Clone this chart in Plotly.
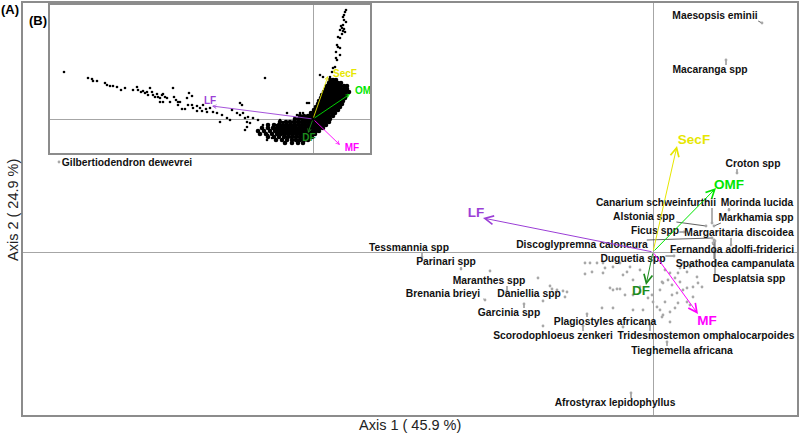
import plotly.graph_objects as go

# ---------------- Panel (A): labelled species (CA scores) ----------------
species = ["Maesopsis eminii", "Macaranga spp", "Croton spp", "Canarium schweinfurthii",
           "Morinda lucida", "Alstonia spp", "Markhamia spp", "Ficus spp",
           "Margaritaria discoidea", "Discoglypremna caloneura", "Fernandoa adolfi-friderici",
           "Duguetia spp", "Spathodea campanulata", "Desplatsia spp", "Tessmannia spp",
           "Parinari spp", "Maranthes spp", "Brenania brieyi", "Daniellia spp", "Garcinia spp",
           "Plagiostyles africana", "Scorodophloeus zenkeri", "Tridesmostemon omphalocarpoides",
           "Tieghemella africana", "Afrostyrax lepidophyllus", "Gilbertiodendron dewevrei"]
sp_x = [1.09, 0.73, 0.84, 0.59, 0.76, 0.53, 0.61, 0.31, 0.78, 0.59, 0.60, 0.21, 0.61, 0.62,
        -2.31, -1.92, -1.46, -1.68, -0.88, -1.29, -0.66, -0.70, -0.03, 0.14, -0.22, -5.94]
sp_y = [2.29, 1.92, 0.79, 0.29, 0.42, 0.26, 0.26, 0.20, 0.07, 0.14, 0.09, -0.04, 0.12, 0.11,
        -0.05, -0.17, -0.39, -0.48, -0.45, -0.52, -0.62, -0.74, -0.73, -0.90, -1.41, 0.90]
# label positions (centre of text)
lab_x = [0.62, 0.57, 1.00, 0.03, 1.04, -0.09, 1.03, 0.02, 0.86, -0.71, 0.79, -0.20, 0.82, 0.96,
         -2.44, -2.07, -1.64, -2.10, -1.24, -1.44, -0.48, -1.00, 0.53, 0.29, -0.38, -5.26]
lab_y = [2.36, 1.82, 0.88, 0.49, 0.49, 0.35, 0.34, 0.21, 0.19, 0.07, 0.02, -0.07, -0.12, -0.27,
         0.04, -0.10, -0.29, -0.42, -0.42, -0.61, -0.70, -0.84, -0.84, -0.99, -1.51, 0.89]

# other (unlabelled) species
oth_x = [-1.63, -1.15, -1.03, -1.01, -0.96, -0.90, -0.86, -1.10, -1.10, -0.68, -0.63, -0.56,
         -0.68, -0.50, -0.43, -0.40, -0.36, -0.33, -0.51, -0.40, -0.20, -0.10, 0.00, 0.04,
         0.07, 0.10, 0.15, 0.17, 0.22, 0.25, 0.27, 0.30, 0.34, 0.37, 0.44, 0.45, 0.40, 0.30,
         0.24, 0.19, 0.22, 0.17, 0.10, 0.07, -0.01, 0.12, 0.25, 0.34, 0.40, -0.05, -0.13,
         -0.20, -0.30, -0.33, -0.23, -0.13, -0.50, -0.61, -0.48, -0.40, -0.26, -0.28, -0.20,
         -0.13, 0.12, 0.09, 0.19, 0.27, 0.34, 0.49, 0.37, 0.09, 0.17, -0.30, 0.40]
oth_y = [-0.19, -0.26, -0.34, -0.37, -0.38, -0.39, -0.40, -0.49, -0.74, -0.11, -0.11, -0.11,
         -0.22, -0.21, -0.36, -0.38, -0.37, -0.37, -0.56, -0.56, -0.58, -0.58, -0.50, -0.55,
         -0.38, -0.31, -0.28, -0.21, -0.26, -0.21, -0.16, -0.11, -0.20, -0.15, -0.25, -0.31,
         -0.35, -0.38, -0.41, -0.43, -0.56, -0.60, -0.63, -0.58, -0.43, -0.50, -0.51, -0.50,
         -0.45, -0.46, -0.35, -0.28, -0.23, -0.11, -0.15, -0.18, -0.11, -0.20, -0.16, -0.15,
         -0.20, -0.43, -0.43, -0.40, -0.18, -0.30, -0.33, -0.30, -0.36, -0.35, -0.53, -0.65,
         -0.70, -0.75, -0.13]

# environmental vectors
env_names = ["SecF", "OMF", "LF", "DF", "MF"]
env_x = [0.24, 0.63, -1.70, -0.07, 0.45]
env_y = [1.06, 0.64, 0.34, -0.33, -0.62]
env_lab_x = [0.41, 0.76, -1.77, -0.12, 0.54]
env_lab_y = [1.11, 0.66, 0.38, -0.40, -0.70]
env_colors = ["#E6E600", "#00E600", "#9B3FD6", "#1E8C1E", "#FF00FF"]

# ---------------- Panel (B): all species ----------------
ins_env_names = ["SecF", "OM", "LF", "DF", "MF"]
ins_env_x = [0.15, 0.37, -1.01, -0.05, 0.27]
ins_env_y = [0.43, 0.25, 0.13, -0.14, -0.26]
ins_lab_x = [0.32, 0.50, -1.03, -0.04, 0.39]
ins_lab_y = [0.45, 0.28, 0.18, -0.19, -0.29]

ins_x = [-2.49, -2.25, -2.21, -2.20, -2.16, -2.08, -2.06, -2.03, -2.00, -1.96, -1.92, -1.88,
         -1.80, -1.76, -1.75, -1.72, -1.70, -1.68, -1.66, -1.65, -1.63, -1.61, -1.60, -1.58,
         -1.56, -1.55, -1.53, -1.51, -1.50, -1.48, -1.46, -1.53, -1.50, -1.43, -1.40, -1.39,
         -1.37, -1.35, -1.33, -1.31, -1.28, -1.26, -1.24, -1.21, -1.25, -1.21, -1.20, -1.16,
         -1.13, -1.11, -1.10, -1.07, -1.06, -1.16, -1.35,
         -0.48, -0.73, -0.71, -1.03, -1.00, -0.96, -0.93, -0.91, -0.86, -0.83, -0.81, -0.76,
         -0.73, -0.70, -0.68, -0.66, -0.65, -0.63, -0.60, -0.66, -0.68, -0.55, -0.51, -0.50,
         -0.46, -0.48, -0.45, -0.41, -0.46, -0.38, -0.36, -0.33, -0.30, -0.26, -0.23, -0.16,
         -0.13, -0.10, -0.06, -0.04, -0.06, -0.03,
         0.33, 0.32, 0.30, 0.31, 0.30, 0.29, 0.27, 0.30, 0.32, 0.25, 0.27, 0.24, 0.25, 0.27,
         0.23, 0.27, 0.24, 0.22, 0.20, 0.19, 0.17, 0.31, 0.33, 0.28, 0.31, 0.29, 0.23, 0.07, 0.10]
ins_y = [0.47, 0.41, 0.40, 0.38, 0.38, 0.36, 0.34, 0.33, 0.33, 0.32, 0.29, 0.31,
         0.29, 0.32, 0.29, 0.27, 0.28, 0.26, 0.27, 0.24, 0.31, 0.27, 0.24, 0.22,
         0.25, 0.22, 0.21, 0.24, 0.25, 0.22, 0.21, 0.17, 0.17, 0.17, 0.31, 0.22,
         0.19, 0.17, 0.17, 0.10, 0.10, 0.21, 0.26, 0.23, 0.14, 0.14, 0.11, 0.13,
         0.11, 0.08, 0.14, 0.10, 0.07, 0.08, 0.14,
         0.41, 0.16, 0.14, 0.11, 0.07, 0.06, -0.03, 0.04, 0.01, -0.01, 0.09, 0.06,
         0.04, 0.06, 0.01, -0.03, 0.02, -0.04, 0.01, -0.08, -0.11, -0.01, -0.08, -0.06,
         -0.09, -0.13, -0.16, -0.19, -0.21, -0.11, -0.06, -0.01, -0.03, 0.06, -0.03, 0.04,
         0.06, 0.06, 0.16, 0.16, 0.01, 0.01,
         1.09, 1.07, 1.02, 0.99, 0.94, 0.91, 0.89, 0.88, 0.87, 0.82, 0.81, 0.74, 0.72, 0.71,
         0.67, 0.64, 0.59, 0.52, 0.51, 0.47, 0.42, 1.04, 0.97, 0.93, 0.90, 0.85, 0.61, 0.44, 0.42]

# dense core of panel (B): rows of (axis-2 score, [axis-1 scores])
ins_rows = [
    (0.39, [0.17, 0.20, 0.23]),
    (0.36, [0.16, 0.19, 0.22, 0.25, 0.28]),
    (0.33, [0.14, 0.17, 0.21, 0.24, 0.27, 0.31, 0.34]),
    (0.30, [0.13, 0.16, 0.19, 0.22, 0.25, 0.28, 0.31, 0.34]),
    (0.27, [0.11, 0.14, 0.17, 0.20, 0.23, 0.26, 0.29, 0.32, 0.36]),
    (0.24, [0.09, 0.12, 0.15, 0.18, 0.21, 0.24, 0.27, 0.30, 0.33]),
    (0.21, [0.08, 0.11, 0.14, 0.17, 0.20, 0.23, 0.26, 0.29, 0.32]),
    (0.18, [0.06, 0.09, 0.12, 0.15, 0.18, 0.21, 0.24, 0.27, 0.30]),
    (0.15, [0.05, 0.08, 0.11, 0.14, 0.17, 0.20, 0.23, 0.26, 0.29]),
    (0.12, [0.03, 0.06, 0.09, 0.12, 0.15, 0.18, 0.21, 0.24, 0.27]),
    (0.09, [0.01, 0.04, 0.07, 0.10, 0.13, 0.16, 0.19, 0.22, 0.25]),
    (0.06, [-0.02, 0.01, 0.04, 0.07, 0.10, 0.13, 0.16, 0.19, 0.22]),
    (0.03, [-0.13, -0.09, -0.05, -0.02, 0.01, 0.04, 0.07, 0.10, 0.13, 0.16, 0.20]),
    (0.00, [-0.18, -0.14, -0.10, -0.07, -0.04, -0.01, 0.02, 0.05, 0.08, 0.11, 0.14, 0.17]),
    (-0.03, [-0.33, -0.27, -0.23, -0.19, -0.15, -0.11, -0.08, -0.05, -0.02, 0.01, 0.04, 0.07,
             0.10, 0.13, 0.16]),
    (-0.06, [-0.45, -0.39, -0.34, -0.30, -0.26, -0.22, -0.18, -0.14, -0.11, -0.08, -0.05,
             -0.02, 0.01, 0.04, 0.07, 0.10, 0.13]),
    (-0.09, [-0.51, -0.45, -0.40, -0.36, -0.32, -0.28, -0.24, -0.20, -0.17, -0.14, -0.11,
             -0.08, -0.05, -0.02, 0.01, 0.04, 0.07, 0.10]),
    (-0.12, [-0.55, -0.49, -0.43, -0.38, -0.34, -0.30, -0.26, -0.22, -0.18, -0.15, -0.12,
             -0.09, -0.06, -0.03, 0.00, 0.03, 0.06]),
    (-0.15, [-0.53, -0.47, -0.41, -0.36, -0.32, -0.28, -0.24, -0.20, -0.16, -0.13, -0.10,
             -0.07, -0.04, -0.01, 0.02]),
    (-0.18, [-0.45, -0.39, -0.34, -0.29, -0.25, -0.21, -0.17, -0.13, -0.10, -0.07, -0.04, -0.01]),
    (-0.21, [-0.37, -0.31, -0.26, -0.21, -0.17, -0.13, -0.09, -0.05]),
    (-0.24, [-0.28, -0.21, -0.15, -0.10]),
]

axis1_title = "Axis 1 ( 45.9 %)"
axis2_title = "Axis 2 ( 24.9 %)"

# ---------------------------------------------------------------------------
FONT = "Liberation Sans, Arial, sans-serif"
W, H = 800, 435
fig = go.Figure()

# leader lines from each labelled point to the nearest edge of its label box
CH = 0.027   # half width per character (data units)
HH = 0.05    # half height of label box
lx, ly = [], []
for n, px, py, tx, ty in zip(species, sp_x, sp_y, lab_x, lab_y):
    hw = len(n) * CH
    ex = min(max(px, tx - hw), tx + hw)
    ey = min(max(py, ty - HH), ty + HH)
    lx += [px, ex, None]
    ly += [py, ey, None]
fig.add_trace(go.Scatter(x=lx, y=ly, mode="lines", line=dict(color="#3a3a3a", width=0.8),
                         hoverinfo="skip", showlegend=False, xaxis="x", yaxis="y"))

fig.add_trace(go.Scatter(x=oth_x + sp_x, y=oth_y + sp_y, mode="markers",
                         marker=dict(size=2.8, color="#A8A8A8"),
                         showlegend=False, xaxis="x", yaxis="y"))

fig.add_trace(go.Scatter(x=lab_x, y=lab_y, mode="text", text=species,
                         textfont=dict(family=FONT, size=10.3, color="#111111", weight="bold"),
                         cliponaxis=False, showlegend=False, xaxis="x", yaxis="y"))

fig.add_trace(go.Scatter(x=env_lab_x, y=env_lab_y, mode="text", text=env_names,
                         textfont=dict(family=FONT, size=13.5, color=env_colors, weight="bold"),
                         cliponaxis=False, showlegend=False, xaxis="x", yaxis="y"))

annotations = []
for ex_, ey_, c in zip(env_x, env_y, env_colors):
    annotations.append(dict(x=ex_, y=ey_, ax=0, ay=0, xref="x", yref="y", axref="x", ayref="y",
                            text="", showarrow=True, arrowhead=5, arrowsize=1.7, arrowwidth=1,
                            arrowcolor=c, standoff=0))

# ---------- inset ----------
dx, dy = [], []
for yv, xs in ins_rows:
    dx += xs
    dy += [yv] * len(xs)
fig.add_trace(go.Scatter(x=dx, y=dy, mode="markers",
                         marker=dict(size=4.6, color="black"),
                         showlegend=False, xaxis="x2", yaxis="y2"))
fig.add_trace(go.Scatter(x=ins_x, y=ins_y, mode="markers",
                         marker=dict(size=2.6, color="black"),
                         showlegend=False, xaxis="x2", yaxis="y2"))
fig.add_trace(go.Scatter(x=ins_lab_x, y=ins_lab_y, mode="text", text=ins_env_names,
                         textfont=dict(family=FONT, size=10, color=env_colors, weight="bold"),
                         cliponaxis=False, showlegend=False, xaxis="x2", yaxis="y2"))
for ex_, ey_, c in zip(ins_env_x, ins_env_y, env_colors):
    annotations.append(dict(x=ex_, y=ey_, ax=0, ay=0, xref="x2", yref="y2", axref="x2", ayref="y2",
                            text="", showarrow=True, arrowhead=5, arrowsize=0.8, arrowwidth=0.9,
                            arrowcolor=c, standoff=0))

# titles and panel tags
centre = dict(xref="paper", yref="paper", showarrow=False, xanchor="center", yanchor="middle")
annotations += [
    dict(x=410 / W, y=1 - 425 / H, text=axis1_title,
         font=dict(family=FONT, size=14.5, color="#222222"), **centre),
    dict(x=13 / W, y=1 - 210 / H, text=axis2_title, textangle=-90,
         font=dict(family=FONT, size=14.5, color="#222222"), **centre),
    dict(x=10 / W, y=1 - 9 / H, text="<b>(A)</b>",
         font=dict(family=FONT, size=13, color="black"), **centre),
    dict(x=38 / W, y=1 - 21 / H, text="<b>(B)</b>",
         font=dict(family=FONT, size=13, color="black"), **centre),
]

frame = dict(showgrid=False, zeroline=True, zerolinecolor="#A6A6A6", zerolinewidth=1,
             showline=True, mirror=True, linecolor="#8C8C8C", linewidth=1.5,
             showticklabels=False, ticks="", fixedrange=True)

fig.update_layout(
    width=W, height=H, margin=dict(l=0, r=0, t=0, b=0),
    paper_bgcolor="white", plot_bgcolor="white", showlegend=False,
    xaxis=dict(domain=[23 / W, 797 / W], range=[-6.30, 1.44], anchor="y", **frame),
    yaxis=dict(domain=[1 - 415 / H, 1 - 3 / H], range=[-1.63, 2.49], anchor="x", **frame),
    xaxis2=dict(domain=[50 / W, 370 / W], range=[-2.63, 0.57], anchor="y2", **frame),
    yaxis2=dict(domain=[1 - 153 / H, 1 - 5 / H], range=[-0.34, 1.14], anchor="x2", **frame),
    annotations=annotations,
)

fig.write_html("out.html", config={"displayModeBar": False},
               post_script="document.body.style.margin='0px';document.body.style.padding='0px';"
                           "document.body.style.overflow='hidden';")
